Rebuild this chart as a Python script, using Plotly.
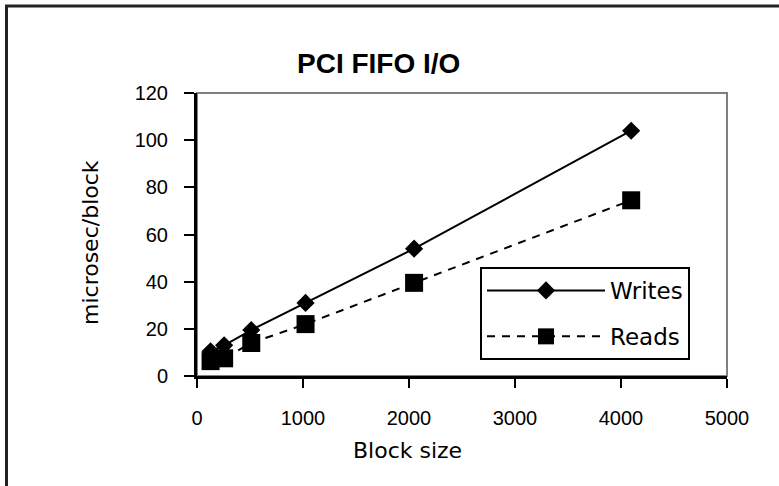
import plotly.graph_objects as go

block_size = [128, 256, 512, 1024, 2048, 4096]
writes = [10.5, 13, 19.5, 31, 54, 104]
reads = [6.3, 7.5, 14, 22, 39.5, 74.5]
x_ticks = [0, 1000, 2000, 3000, 4000, 5000]
y_ticks = [0, 20, 40, 60, 80, 100, 120]

W, H = 779, 486
L, R, T, B = 197, 52, 93, 110
pw, ph = W - L - R, H - T - B

def px(xp):
    return (xp - L) / pw

def py(yp):
    return (H - B - yp) / ph

fig = go.Figure()
fig.add_trace(go.Scatter(
    x=block_size, y=writes, name="Writes", mode="lines+markers",
    line=dict(color="black", width=2),
    marker=dict(symbol="diamond", size=14, color="black"),
    legendgroup="w"))
fig.add_trace(go.Scatter(
    x=block_size, y=reads, name="Reads", mode="lines+markers",
    line=dict(color="black", width=2, dash="8px,7px"),
    marker=dict(symbol="square", size=18, color="black"),
    legendgroup="r"))

tickfont = dict(family="Liberation Sans, Arial", size=20, color="black")
labfont = dict(family="DejaVu Sans", size=22, color="black")
legfont = dict(family="DejaVu Sans", size=23, color="black")

fig.update_layout(
    width=W, height=H,
    margin=dict(l=L, r=R, t=T, b=B),
    paper_bgcolor="white", plot_bgcolor="white",
    showlegend=True,
    legend=dict(x=px(480), y=py(267), xanchor="left", yanchor="top",
                bordercolor="black", borderwidth=2, bgcolor="white",
                font=legfont, itemwidth=118, tracegroupgap=13,
                traceorder="grouped"),
    xaxis=dict(range=[0, 5000], tickvals=x_ticks, showgrid=False, zeroline=False,
               showline=True, linecolor="black", linewidth=3,
               ticks="outside", ticklen=9, tickwidth=2, tickcolor="black",
               tickfont=tickfont, ticklabelstandoff=13),
    yaxis=dict(range=[0, 120], tickvals=y_ticks, showgrid=False, zeroline=False,
               showline=True, linecolor="black", linewidth=3,
               ticks="outside", ticklen=10, tickwidth=2, tickcolor="black",
               tickfont=tickfont, ticklabelstandoff=12),
    shapes=[
        dict(type="rect", xref="paper", yref="paper", x0=0, x1=1, y0=0, y1=1,
             line=dict(color="#808080", width=2), layer="below"),
        dict(type="rect", xref="paper", yref="paper",
             x0=px(6.5), x1=px(800), y0=py(520), y1=py(6),
             line=dict(color="#222222", width=3), layer="below"),
    ],
    annotations=[
        dict(text="<b>PCI FIFO I/O</b>", x=px(378), y=py(64), xref="paper", yref="paper",
             showarrow=False, font=dict(family="Liberation Sans, Arial", size=28, color="black"),
             xanchor="center", yanchor="middle"),
        dict(text="Block size", x=px(407), y=py(450), xref="paper", yref="paper",
             showarrow=False, font=labfont, xanchor="center", yanchor="middle"),
        dict(text="microsec/block", x=px(90), y=py(243), xref="paper", yref="paper",
             showarrow=False, font=labfont, textangle=-90,
             xanchor="center", yanchor="middle"),
    ],
)

fig.write_html("out.html")
